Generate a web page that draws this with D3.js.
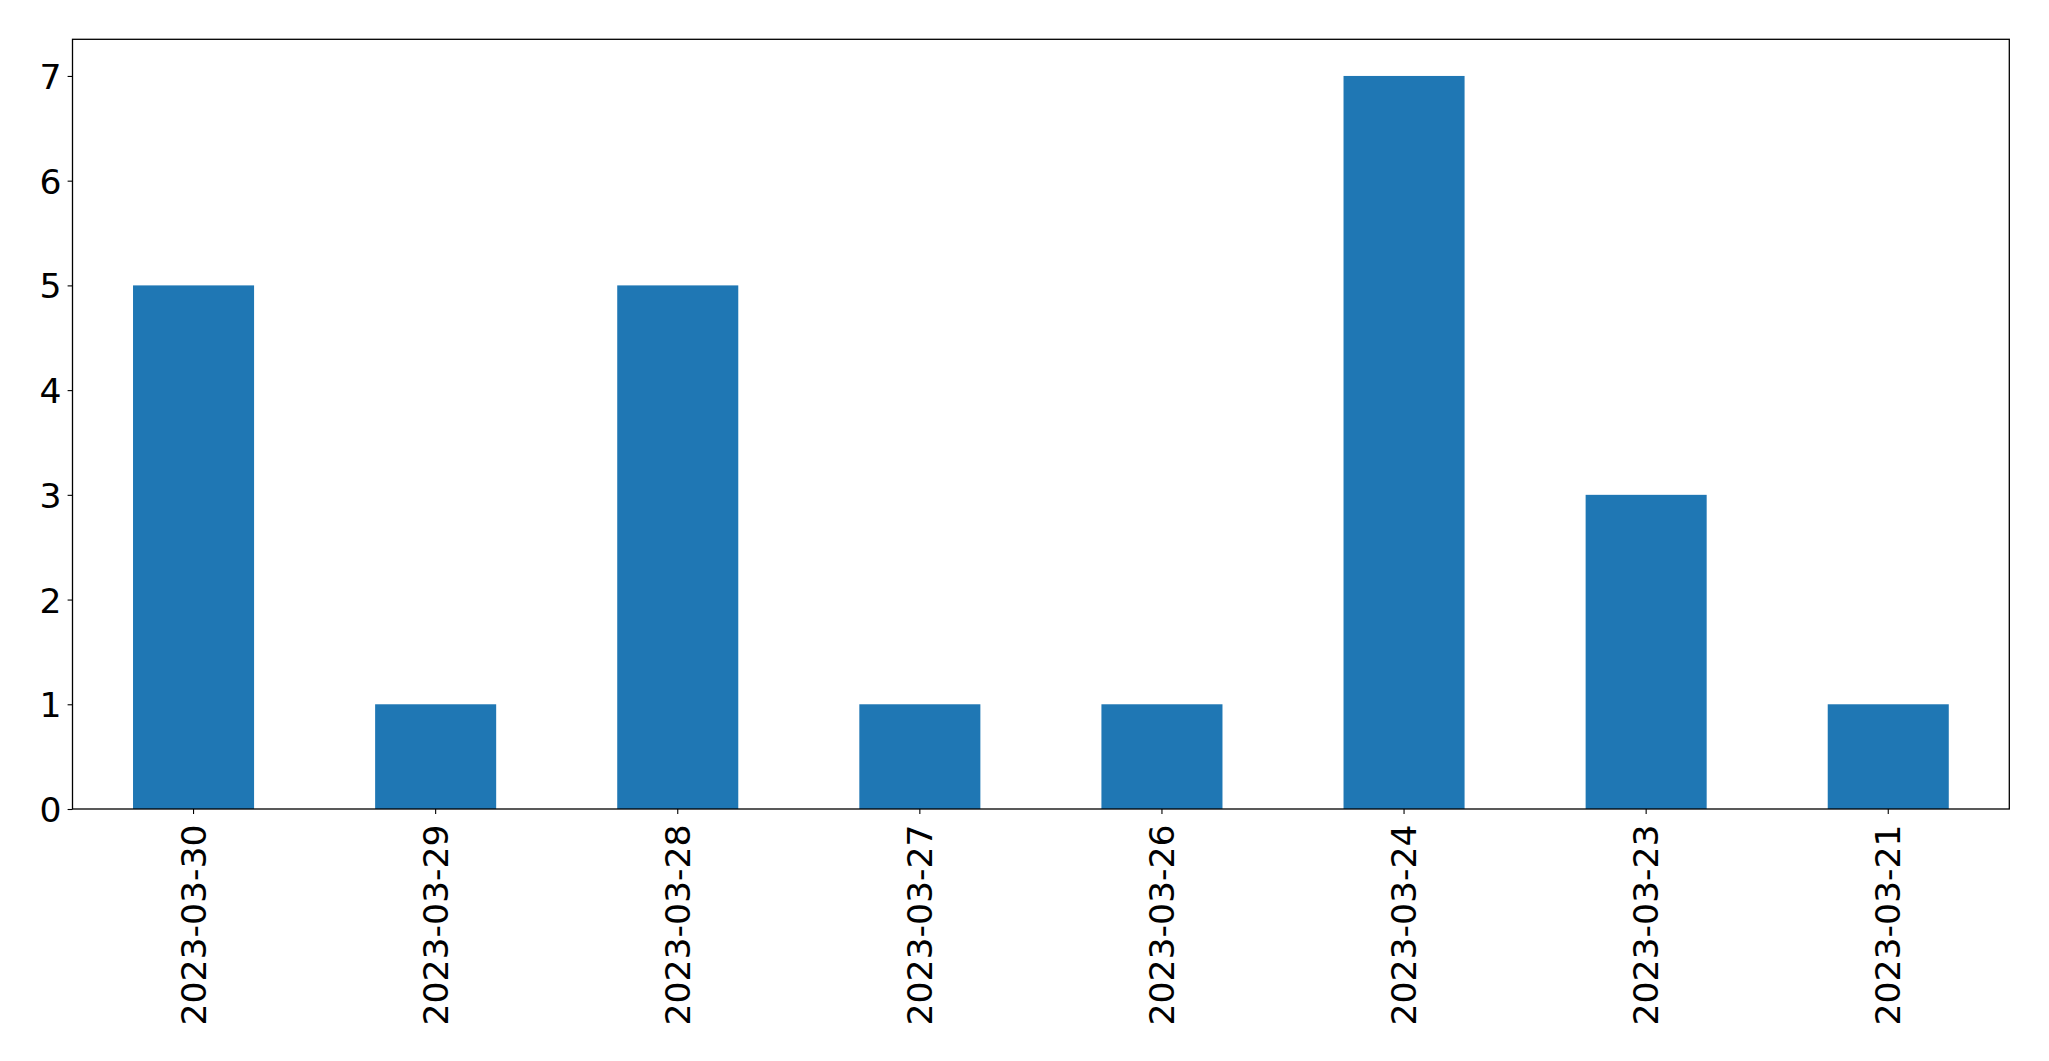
<!DOCTYPE html>
<html><head><meta charset="utf-8">
<script src="https://cdn.jsdelivr.net/npm/d3@7"></script>
<style>html,body{margin:0;padding:0;background:#fff;}</style>
</head><body>
<script>
const categories = ["2023-03-30","2023-03-29","2023-03-28","2023-03-27","2023-03-26","2023-03-24","2023-03-23","2023-03-21"];
const values = [5,1,5,1,1,7,3,1];
const yTicks = [0,1,2,3,4,5,6,7];

const W = 2049, H = 1061;
const m = {left:72.5, right:W-2009.3, top:39.3, bottom:H-809};
const svg = d3.select("body").append("svg").attr("width",W).attr("height",H);

const x = d3.scaleBand().domain(categories).range([m.left, W-m.right]).paddingInner(0.5).paddingOuter(0.25);
const y = d3.scaleLinear().domain([0, 7.35]).range([H-m.bottom, m.top]);

svg.append("g").selectAll("rect").data(values).join("rect")
  .attr("x",(d,i)=>x(categories[i]))
  .attr("width",x.bandwidth())
  .attr("y",d=>y(d))
  .attr("height",d=>y(0)-y(d))
  .attr("fill","#1f77b4");

const fs = 34.6;
const FONT = "'DejaVu Sans', sans-serif";
const yAxis = svg.append("g").attr("transform",`translate(${m.left},0)`)
  .call(d3.axisLeft(y).tickValues(yTicks).tickFormat(d3.format("d")).tickSize(4.9).tickPadding(6));
yAxis.attr("font-family",null).attr("font-size",null);
yAxis.select(".domain").remove();
yAxis.selectAll("text").style("font-family",FONT).style("font-size",fs+"px").attr("fill","#000").attr("dy","0.36em");
yAxis.selectAll("line").attr("stroke","#000").attr("stroke-width",1.1);

const xAxis = svg.append("g").attr("transform",`translate(0,${H-m.bottom})`)
  .call(d3.axisBottom(x).tickSize(4.9).tickPadding(0));
xAxis.attr("font-family",null).attr("font-size",null);
xAxis.select(".domain").remove();
xAxis.selectAll("line").attr("stroke","#000").attr("stroke-width",1.1);
xAxis.selectAll("text").style("font-family",FONT).style("font-size",fs+"px").attr("fill","#000")
  .attr("text-anchor","end").attr("dy",null).attr("y",0)
  .attr("transform","translate(0,15.5) rotate(-90)")
  .attr("dominant-baseline","central");

svg.append("rect").attr("x",m.left).attr("y",m.top)
  .attr("width",W-m.right-m.left).attr("height",H-m.bottom-m.top)
  .attr("fill","none").attr("stroke","#000").attr("stroke-width",1.3);
</script>
</body></html>
